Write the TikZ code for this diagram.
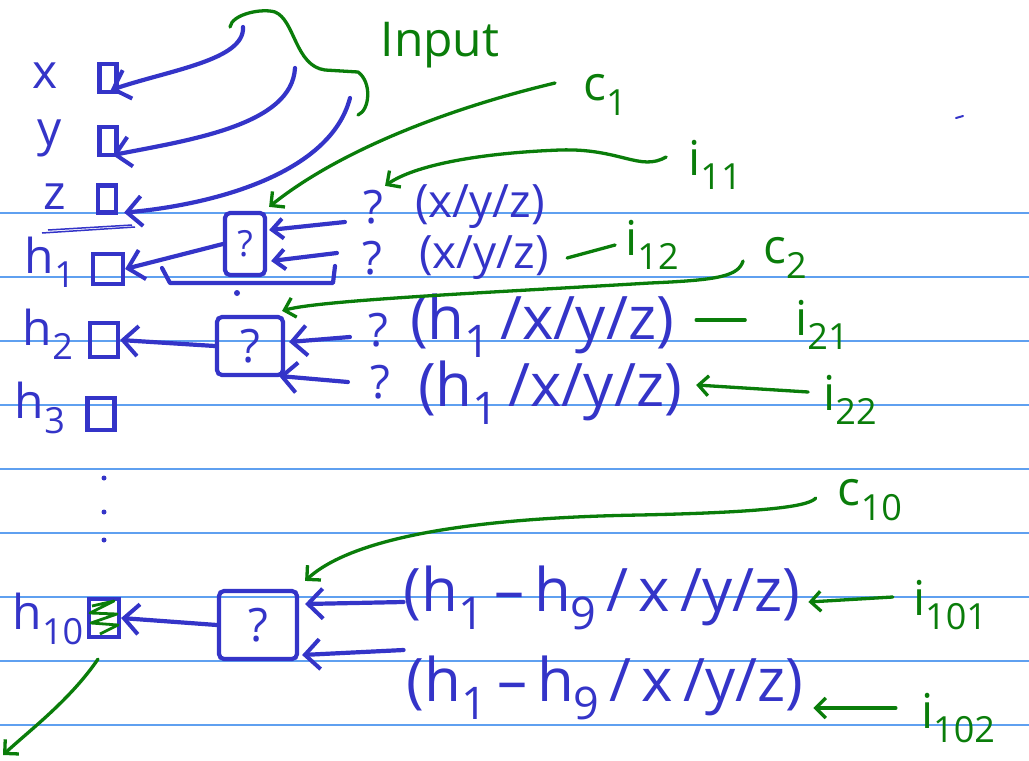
\documentclass[tikz,border=0pt]{standalone}
\usepackage{fontspec}
\setmainfont{Open Sans}
\usetikzlibrary{arrows.meta,positioning,calc}

\definecolor{ink}{RGB}{52,52,200}
\definecolor{pen}{RGB}{10,125,10}
\definecolor{ruled}{RGB}{95,160,240}

\newcommand{\low}[1]{\raisebox{-0.3em}{\scalebox{0.75}{#1}}}

\tikzset{
    % Blue ink strokes
    inkline/.style={
        draw=ink,
        line width=4.2pt,
        line cap=round,
        line join=round
    },
    inkarrow/.style={
        inkline,
        -{Straight Barb[length=15pt,width=30pt,line width=4pt]}
    },
    smallinkarrow/.style={
        inkline,
        -{Straight Barb[length=11pt,width=20pt,line width=4pt]}
    },
    % Green pen strokes
    penline/.style={
        draw=pen,
        line width=3.3pt,
        line cap=round,
        line join=round
    },
    penarrow/.style={
        penline,
        -{Straight Barb[length=10pt,width=20pt,line width=3.3pt]}
    },
    % Cell box with a question mark
    cell/.style={
        rectangle,
        rounded corners=5pt,
        draw=ink,
        line width=4.2pt,
        inner sep=0pt,
        text=ink,
        font=\fontsize{46}{50}\selectfont
    },
    % Small register square
    reg/.style={
        rectangle,
        draw=ink,
        line width=4.2pt,
        inner sep=0pt
    },
    % Variable names on the left
    varname/.style={
        text=ink,
        inner sep=0pt,
        font=\fontsize{48}{52}\selectfont
    },
    % Source lists
    source/.style={
        text=ink,
        inner sep=0pt,
        font=\fontsize{46}{50}\selectfont
    },
    bigsource/.style={
        text=ink,
        inner sep=0pt,
        font=\fontsize{60}{64}\selectfont
    },
    % Green annotations
    tag/.style={
        text=pen,
        inner sep=0pt,
        font=\fontsize{48}{52}\selectfont
    }
}

\begin{document}
\begin{tikzpicture}[x=1pt, y=-1pt]

    \useasboundingbox (0,0) rectangle (1029,761);
    \fill[white] (0,0) rectangle (1029,761);

    % ========== RULED PAPER ==========
    \foreach \y in {213,277,...,725}
        \draw[ruled, line width=1.3pt] (0,\y) -- (1029,\y);

    % ========== VARIABLES ==========
    \node[varname] (lx) at (45,76) {x};
    \node[reg, minimum width=17pt, minimum height=28pt] (rx) at (108,78) {};
    \node[varname] (ly) at (50,138) {y};
    \node[reg, minimum width=17pt, minimum height=28pt] (ry) at (108,141) {};
    \node[varname] (lz) at (55,197) {z};
    \node[reg, minimum width=18pt, minimum height=27pt] (rz) at (107,199) {};
    \node[varname] (lh1) at (50,262) {h\low{1}};
    \node[reg, minimum width=30pt, minimum height=30pt] (rh1) at (108,269) {};
    \node[varname] (lh2) at (48,334) {h\low{2}};
    \node[reg, minimum width=28pt, minimum height=34pt] (rh2) at (104,340) {};
    \node[varname] (lh3) at (40,408) {h\low{3}};
    \node[reg, minimum width=27pt, minimum height=32pt] (rh3) at (101,414) {};
    \node[varname] (lh10) at (48,619) {h\low{10}};
    \node[reg, minimum width=30pt, minimum height=38pt] (rh10) at (104,618) {};

    \foreach \y in {478,512,540}
        \fill[ink] (104,\y) circle (2.5pt);

    % double underline below z
    \draw[ink, line width=1.5pt] (42,233) -- (135,227);
    \draw[ink, line width=1.5pt] (48,230) -- (132,225);

    % green scribble over h10
    \draw[pen, line width=2.8pt, line join=round]
        (92,606) -- (114,601) -- (90,613) -- (117,614) -- (91,623) -- (118,625) -- (100,634);

    % ========== INPUT ==========
    \node[tag] (inp) at (440,45) {Input};
    \coordinate (tx) at (243,27);
    \coordinate (ty) at (295,68);
    \coordinate (tz) at (350,98);
    \draw[inkarrow] (tx) .. controls (245,60) and (170,70) .. ($(rx.south east)+(-8,-4)$);
    \draw[inkarrow] (ty) .. controls (292,125) and (190,140) .. ($(ry.south east)+(-6,-2)$);
    \draw[inkarrow] (tz) .. controls (330,175) and (210,205) .. ($(rz.south east)+(6,-2)$);
    \draw[penline] (230,27) .. controls (232,14) and (262,8) .. (275,12)
        .. controls (295,20) and (295,66) .. (325,70) -- (358,72)
        .. controls (372,82) and (370,110) .. (358,115);

    % ========== CELL 1 ==========
    \node[cell, minimum width=40pt, minimum height=62pt] (cell1) at (245,244) {\fontsize{36}{40}\selectfont ?};
    \node[source] (q11) at (373,207) {?};
    \node[source] (s11) at (480,207) {(x/y/z)};
    \node[source] (q12) at (372,258) {?};
    \node[source] (s12) at (484,258) {(x/y/z)};

    \draw[smallinkarrow] ($(q11.west)+(-18,15)$) -- ($(cell1.east)+(2,-14)$);
    \draw[smallinkarrow] ($(q12.west)+(-25,-5)$) -- ($(cell1.east)+(4,17)$);
    \draw[inkarrow] (cell1.west) -- (rh1.east);
    \coordinate (loopR) at (335,266);
    \draw[inkline] (loopR) -- ++(-2,17) -- (170,283) -- (162,268);
    \fill[ink] (237,293) circle (3pt);

    % ========== CELL 2 ==========
    \node[cell, minimum width=66pt, minimum height=58pt] (cell2) at (250,346) {?};
    \node[source] (q21) at (378,330) {?};
    \node[bigsource] (s21) at (542,326) {(h\low{1}\,/x/y/z)};
    \node[source] (q22) at (380,382) {?};
    \node[bigsource] (s22) at (550,393) {(h\low{1}\,/x/y/z)};

    \draw[inkarrow] ($(q21.west)+(-18,7)$) -- ($(cell2.east)+(4,-4)$);
    \draw[inkarrow] ($(q22.west)+(-22,0)$) -- ($(cell2.east)+(-6,30)$);
    \draw[inkarrow] (cell2.west) -- (rh2.east);

    % ========== CELL 10 ==========
    \node[cell, minimum width=78pt, minimum height=68pt] (cell3) at (258,625) {?};
    \node[bigsource] (s101) at (602,598) {(h\low{1}\,–\,h\low{9}\,/\,x\,/y/z)};
    \node[bigsource] (s102) at (605,688) {(h\low{1}\,–\,h\low{9}\,/\,x\,/y/z)};

    \draw[inkarrow] ($(s101.west)+(0,4)$) -- ($(cell3.east)+(6,-21)$);
    \draw[inkarrow] ($(s102.west)+(-3,-38)$) -- ($(cell3.east)+(3,30)$);
    \draw[inkarrow] (cell3.west) -- (rh10.east);

    % ========== GREEN LABELS ==========
    \node[tag] (c1) at (605,95) {c\low{1}};
    \node[tag] (i11) at (715,165) {i\low{11}};
    \node[tag] (i12) at (652,245) {i\low{12}};
    \node[tag] (c2) at (785,258) {c\low{2}};
    \node[tag] (i21) at (822,325) {i\low{21}};
    \node[tag] (i22) at (850,400) {i\low{22}};
    \node[tag] (c10) at (870,500) {c\low{10}};
    \node[tag] (i101) at (950,605) {i\low{101}};
    \node[tag] (i102) at (958,718) {i\low{102}};

    % c1 -> cell 1
    \draw[penarrow] ($(c1.west)+(-28,-12)$) .. controls (450,108) and (340,150) .. ($(cell1.north east)+(2,-4)$);
    % i11 -> first source
    \draw[penarrow] ($(i11.west)+(-22,-8)$) .. controls (640,172) and (620,148) .. (560,150)
        .. controls (480,153) and (415,165) .. ($(q11.north east)+(2,-4)$);
    % i12 dash
    \draw[penline] ($(i12.west)+(-10,0)$) -- ($(s12.east)+(18,0)$);
    % c2 -> cell 2
    \draw[penarrow] ($(c2.west)+(-20,3)$) .. controls (738,276) and (720,280) .. (650,283)
        .. controls (500,292) and (320,300) .. ($(cell2.north east)+(-3,-4)$);
    % i21 dash
    \draw[penline] ($(i21.west)+(-50,-5)$) -- ($(s21.east)+(22,-6)$);
    % i22 -> second source
    \draw[penarrow] ($(i22.west)+(-15,-8)$) -- ($(s22.east)+(14,-8)$);
    % c10 -> cell 10
    \draw[penarrow] ($(c10.west)+(-22,-2)$) .. controls (810,505) and (780,512) .. (640,515)
        .. controls (460,518) and (350,540) .. ($(cell3.north east)+(6,-8)$);
    % i101, i102
    \draw[penarrow] ($(i101.west)+(-20,-8)$) -- ($(s101.east)+(8,4)$);
    \draw[penarrow] ($(i102.west)+(-25,-10)$) -- ($(s102.east)+(10,20)$);
    % output
    \coordinate (outp) at (3,755);
    \draw[penarrow] ($(rh10.south)+(-6,20)$) .. controls (70,700) and (30,730) .. (outp);

    % stray ink mark
    \draw[ink, line width=2pt, line cap=round] (956,118) -- (963,116);

\end{tikzpicture}
\end{document}
